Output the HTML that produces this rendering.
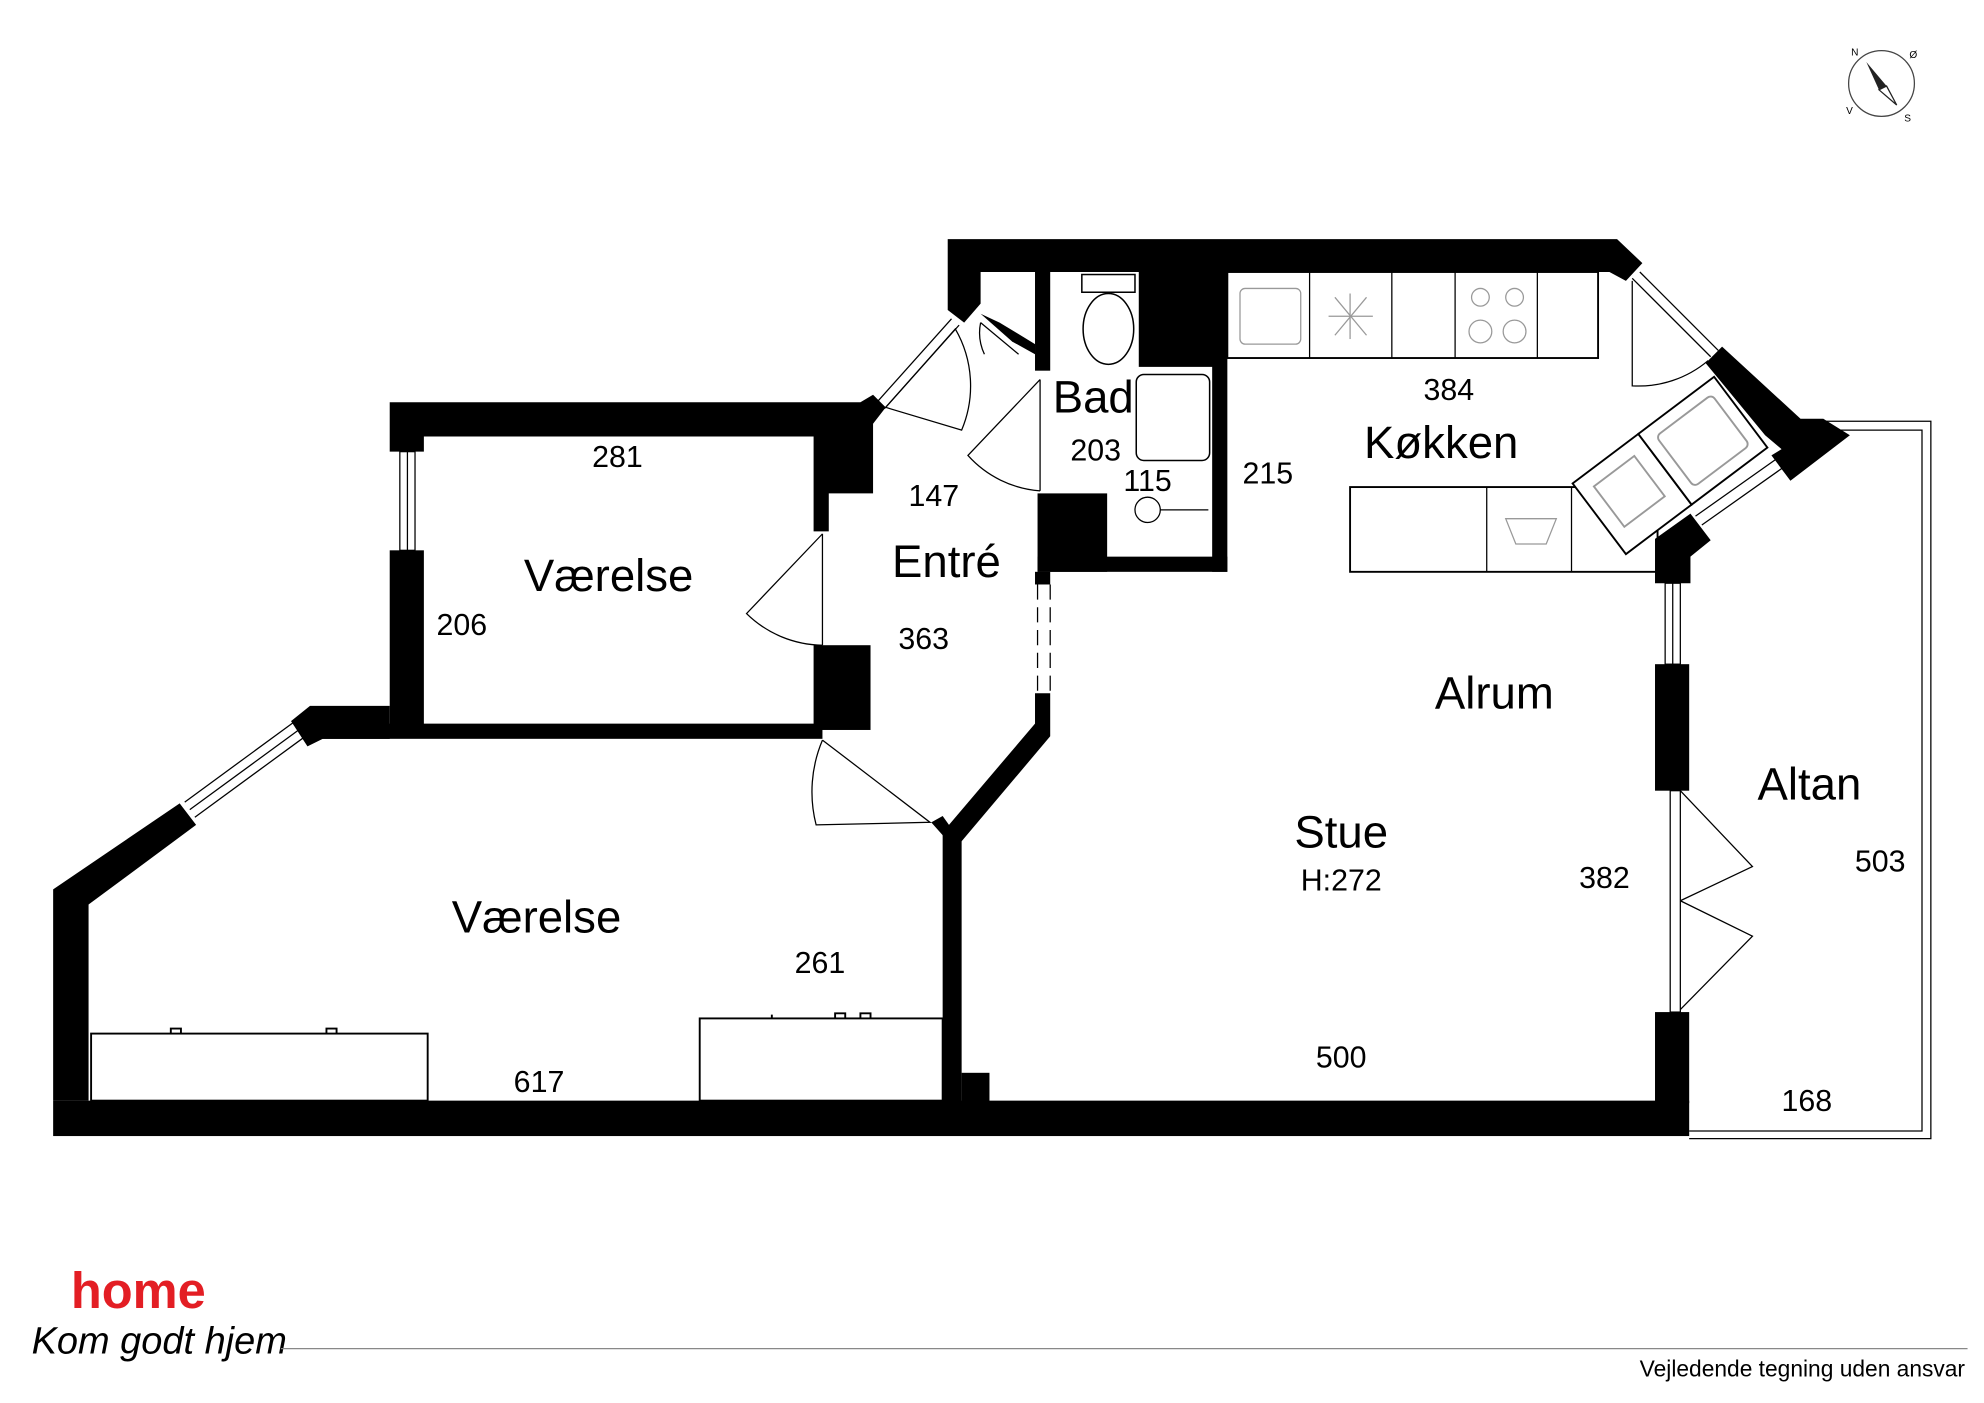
<!DOCTYPE html>
<html><head><meta charset="utf-8"><style>
html,body{margin:0;padding:0;background:#fff}
svg{display:block}
text{font-family:"Liberation Sans",Arial,sans-serif;fill:#000}
</style></head><body>
<svg width="1984" height="1403" viewBox="0 0 1568 1109" preserveAspectRatio="none" xmlns="http://www.w3.org/2000/svg">
<rect width="1568" height="1109" fill="#fff"/>
<g transform="translate(1487,66)">
<circle r="26" fill="none" stroke="#444" stroke-width="1"/>
<polygon points="-12,-17 4,2 -2,5" fill="#222"/>
<polygon points="-2,5 4,2 12,17" fill="none" stroke="#222" stroke-width="1"/>
<text x="-24" y="-22" font-size="8">N</text><text x="22" y="-20" font-size="8">Ø</text>
<text x="-28" y="24" font-size="8">V</text><text x="18" y="30" font-size="8">S</text>
</g>
<g fill="#000">
<polygon points="749,189 1278,189 1298,208 1285,222 1272,215 775,215 775,240 762,255 749,245"/>
<rect x="900" y="215" width="68" height="75"/>
<rect x="958" y="215" width="12" height="237"/>
<rect x="820" y="440" width="150" height="12"/>
<rect x="820" y="390" width="55" height="62"/>
<rect x="818" y="215" width="12" height="78"/>
<polygon points="775,248 790,255 818,272 818,280 800,270"/>
<polygon points="308,318 680,318 690,312 700,322 690,335 690,390 655,390 655,420 643,420 643,345 335,345 335,357 308,357"/>
<rect x="308" y="435" width="27" height="140"/>
<rect x="643" y="510" width="45" height="67"/>
<rect x="240" y="572" width="410" height="12"/>
<polygon points="230,570 245,558 308,558 308,584 255,584 243,590"/>
<polygon points="142,635 155,652 70,715 70,870 42,870 42,703"/>
<rect x="42" y="870" width="1293" height="28"/>
<rect x="818" y="452" width="12" height="10"/>
<polygon points="818,548 830,548 830,582 760,665 752,668 736,650 745,645 750,652 818,572"/>
<rect x="745" y="660" width="15" height="212"/>
<rect x="760" y="848" width="22" height="24"/>
<rect x="1308" y="525" width="27" height="100"/>
<rect x="1308" y="800" width="27" height="72"/>
<polygon points="1336,406 1352,427 1336,440 1336,461 1308,461 1308,426"/>
<polygon points="1361,274 1423,331 1441,331 1462,344 1415,380 1400,360 1408,355 1395,344 1348,287"/>
</g>
<g stroke="#000" stroke-width="1" fill="none">
<rect x="316" y="357" width="12" height="78"/>
<line x1="322" y1="357" x2="322" y2="435"/>
<line x1="150" y1="640" x2="236" y2="577"/><line x1="146" y1="634" x2="232" y2="571"/><line x1="154" y1="646" x2="240" y2="583"/>
<line x1="693" y1="318" x2="752" y2="252"/><line x1="699" y1="323" x2="758" y2="257"/>
<line x1="1290" y1="220" x2="1352" y2="282"/><line x1="1296" y1="215" x2="1358" y2="277"/>
<line x1="1340" y1="408" x2="1405" y2="362"/><line x1="1345" y1="415" x2="1410" y2="369"/>
<rect x="1316" y="461" width="12" height="64"/>
<line x1="1322" y1="461" x2="1322" y2="525"/>
<rect x="1320" y="625" width="8" height="175"/>
<line x1="820" y1="462" x2="820" y2="548" stroke-dasharray="12,6"/>
<line x1="830" y1="462" x2="830" y2="548" stroke-dasharray="12,6"/>
<polyline points="1443,333 1526,333 1526,900 1335,900"/>
<polyline points="1443,340 1519,340 1519,894 1335,894"/>
<path d="M650,422 L590,485 A87,87 0 0 0 650,510"/><line x1="650" y1="422" x2="650" y2="510"/>
<path d="M822,300 L765,360 A85,85 0 0 0 822,388"/><line x1="822" y1="300" x2="822" y2="388"/>
<path d="M700,322 L755,260 A90,90 0 0 1 760,340 Z"/>
<path d="M775,255 L805,280 M775,255 A40,40 0 0 0 778,280"/>
<path d="M650,585 L735,650 L645,652 A105,105 0 0 1 650,585"/>
<path d="M1290,222 L1290,305 A85,85 0 0 0 1350,285"/>
<path d="M1328,625 L1385,685 L1328,712"/>
<path d="M1328,712 L1385,740 L1328,798"/>
<!-- wardrobes -->
<rect x="72" y="817" width="266" height="53" stroke-width="1.5"/>
<rect x="553" y="805" width="192" height="65" stroke-width="1.5"/>
<g stroke-width="1.5"><path d="M135,817 v-4 h8 v4 M258,817 v-4 h8 v4 M610,805 v-3 M660,805 v-4 h8 v4 M680,805 v-4 h8 v4"/></g>
<!-- kitchen -->
<rect x="970" y="215" width="293" height="68" stroke-width="1.5"/>
<line x1="1035" y1="215" x2="1035" y2="283"/><line x1="1100" y1="215" x2="1100" y2="283"/><line x1="1150" y1="215" x2="1150" y2="283"/><line x1="1215" y1="215" x2="1215" y2="283"/>
<rect x="980" y="228" width="48" height="44" rx="4" stroke="#999"/>
<g stroke="#999"><line x1="1055" y1="235" x2="1080" y2="265"/><line x1="1080" y1="235" x2="1055" y2="265"/><line x1="1067" y1="232" x2="1067" y2="268"/><line x1="1050" y1="250" x2="1085" y2="250"/>
<circle cx="1170" cy="235" r="7"/><circle cx="1197" cy="235" r="7"/><circle cx="1170" cy="262" r="9"/><circle cx="1197" cy="262" r="9"/></g>
<rect x="1067" y="385" width="243" height="67" stroke-width="1.5"/>
<line x1="1175" y1="385" x2="1175" y2="452"/><line x1="1242" y1="385" x2="1242" y2="452"/>
<path d="M1190,410 L1230,410 L1222,430 L1198,430 Z" stroke="#999"/>
<g transform="translate(1285,438) rotate(-37)" stroke-width="1.5">
<rect x="0" y="-70" width="65" height="70" fill="#fff"/><rect x="65" y="-70" width="75" height="70" fill="#fff"/>
<rect x="75" y="-60" width="55" height="50" stroke="#999" rx="4"/><rect x="12" y="-58" width="40" height="40" stroke="#999"/>
</g>
<rect x="855" y="217" width="42" height="14" stroke-width="1.2"/>
<ellipse cx="876" cy="260" rx="20" ry="28" stroke-width="1.2"/>
<rect x="898" y="296" width="58" height="68" rx="6" stroke-width="1.2"/>
<circle cx="907" cy="403" r="10"/><line x1="917" y1="403" x2="955" y2="403"/>
</g>
<g font-size="24">
<text x="488" y="369" text-anchor="middle">281</text>
<text x="365" y="502" text-anchor="middle">206</text>
<text x="738" y="400" text-anchor="middle">147</text>
<text x="730" y="513" text-anchor="middle">363</text>
<text x="866" y="364" text-anchor="middle">203</text>
<text x="907" y="388" text-anchor="middle">115</text>
<text x="1002" y="382" text-anchor="middle">215</text>
<text x="1145" y="316" text-anchor="middle">384</text>
<text x="648" y="769" text-anchor="middle">261</text>
<text x="426" y="863" text-anchor="middle">617</text>
<text x="1060" y="844" text-anchor="middle">500</text>
<text x="1268" y="702" text-anchor="middle">382</text>
<text x="1486" y="689" text-anchor="middle">503</text>
<text x="1428" y="878" text-anchor="middle">168</text>
<text x="1060" y="704" text-anchor="middle">H:272</text>
</g>
<g font-size="36">
<text x="481" y="467" text-anchor="middle">Værelse</text>
<text x="424" y="737" text-anchor="middle">Værelse</text>
<text x="748" y="456" text-anchor="middle">Entré</text>
<text x="864" y="326" text-anchor="middle">Bad</text>
<text x="1139" y="362" text-anchor="middle">Køkken</text>
<text x="1181" y="560" text-anchor="middle">Alrum</text>
<text x="1060" y="670" text-anchor="middle">Stue</text>
<text x="1430" y="632" text-anchor="middle">Altan</text>
</g>
<text x="56" y="1034" font-size="40" font-weight="bold" style="fill:#e31e24">home</text>
<text x="25" y="1070" font-size="30" font-style="italic" font-family="Liberation Serif,serif">Kom godt hjem</text>
<line x1="222" y1="1066" x2="1555" y2="1066" stroke="#888" stroke-width="1"/>
<text x="1553" y="1088" font-size="18" text-anchor="end">Vejledende tegning uden ansvar</text>
</svg>
</body></html>
